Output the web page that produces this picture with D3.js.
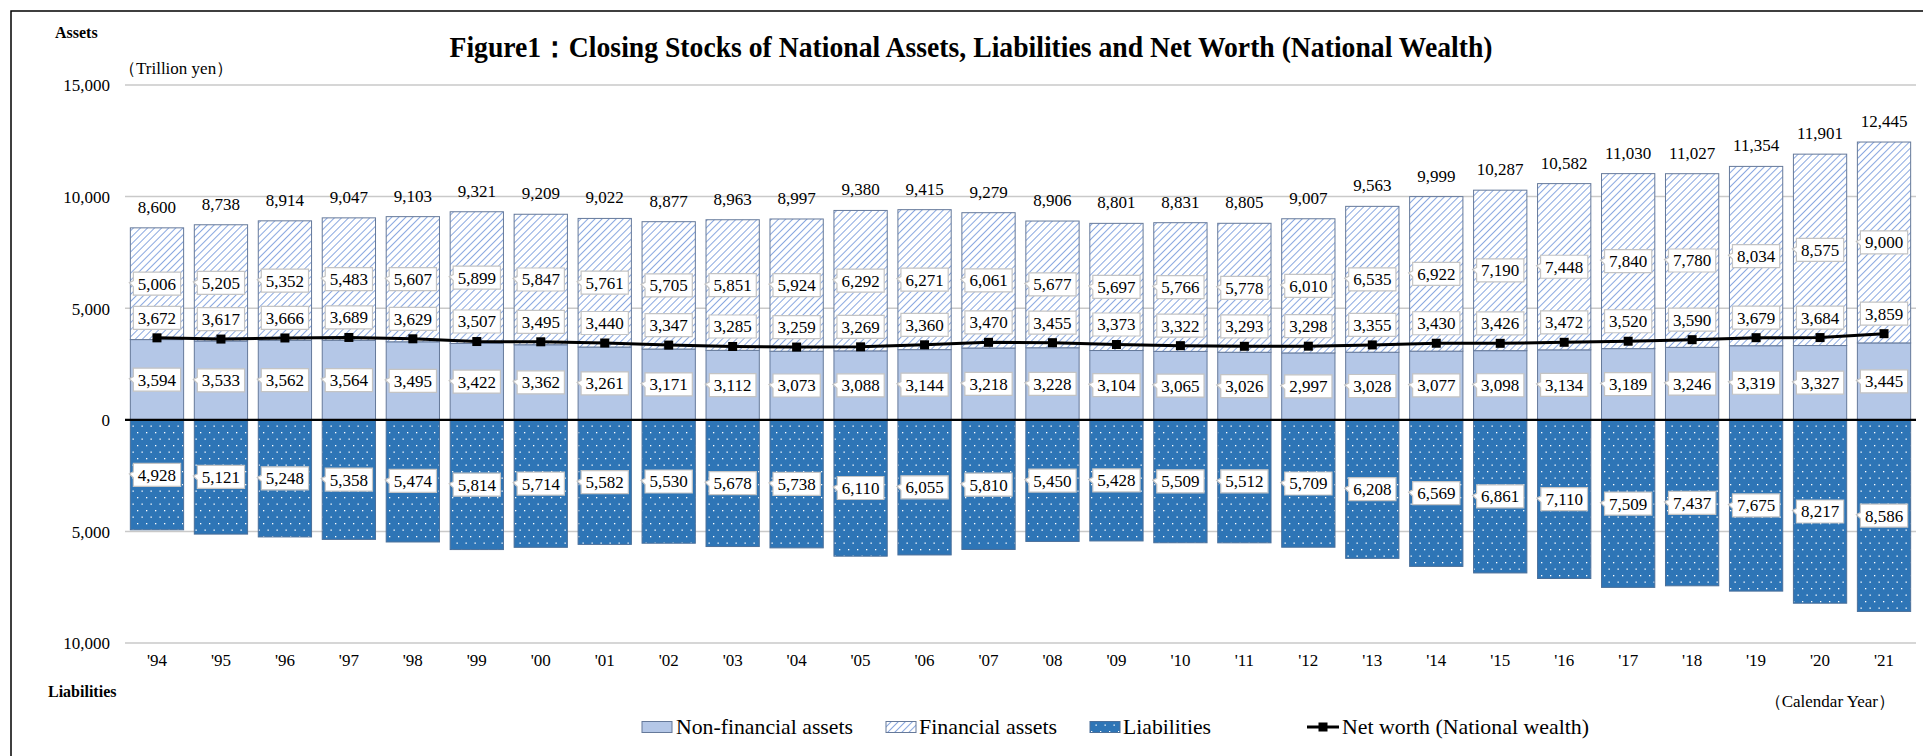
<!DOCTYPE html>
<html>
<head>
<meta charset="utf-8">
<script src="https://cdn.jsdelivr.net/npm/d3@7/dist/d3.min.js"></script>
<style>
  html, body { margin: 0; padding: 0; background: #fff; }
  svg { display: block; font-family: "Liberation Serif", "Times New Roman", serif; }
</style>
</head>
<body>
<svg id="chart" width="1923" height="756"></svg>
<script>
// ---------- data ----------
const years = ["'94","'95","'96","'97","'98","'99","'00","'01","'02","'03","'04","'05","'06","'07","'08","'09","'10","'11","'12","'13","'14","'15","'16","'17","'18","'19","'20","'21"];
const nonFinancial = [3594,3533,3562,3564,3495,3422,3362,3261,3171,3112,3073,3088,3144,3218,3228,3104,3065,3026,2997,3028,3077,3098,3134,3189,3246,3319,3327,3445];
const financial = [5006,5205,5352,5483,5607,5899,5847,5761,5705,5851,5924,6292,6271,6061,5677,5697,5766,5778,6010,6535,6922,7190,7448,7840,7780,8034,8575,9000];
const totals = [8600,8738,8914,9047,9103,9321,9209,9022,8877,8963,8997,9380,9415,9279,8906,8801,8831,8805,9007,9563,9999,10287,10582,11030,11027,11354,11901,12445];
const liabilities = [4928,5121,5248,5358,5474,5814,5714,5582,5530,5678,5738,6110,6055,5810,5450,5428,5509,5512,5709,6208,6569,6861,7110,7509,7437,7675,8217,8586];
const netWorth = [3672,3617,3666,3689,3629,3507,3495,3440,3347,3285,3259,3269,3360,3470,3455,3373,3322,3293,3298,3355,3430,3426,3472,3520,3590,3679,3684,3859];
const yTicks = [-10000,-5000,0,5000,10000,15000];
const legendItems = ["Non-financial assets","Financial assets","Liabilities","Net worth (National wealth)"];

// ---------- setup ----------
const svg = d3.select("#chart");
const fmt = d3.format(",");
const plotLeft = 125, plotRight = 1916, plotTop = 85, plotBottom = 643;

const x = d3.scaleBand().domain(years).range([plotLeft, plotRight]).paddingInner(0.167).paddingOuter(0.0835);
const y = d3.scaleLinear().domain([-10000, 15000]).range([plotBottom, plotTop]);

// patterns
const defs = svg.append("defs");
const hatch = defs.append("pattern").attr("id","hatch").attr("patternUnits","userSpaceOnUse")
  .attr("width",5).attr("height",5).attr("patternTransform","rotate(45)");
hatch.append("rect").attr("width",5).attr("height",5).attr("fill","#ffffff");
hatch.append("line").attr("x1",0).attr("y1",0).attr("x2",0).attr("y2",5)
  .attr("stroke","#8aa8e0").attr("stroke-width",2);

const dots = defs.append("pattern").attr("id","dots").attr("patternUnits","userSpaceOnUse")
  .attr("width",9).attr("height",13);
dots.append("rect").attr("width",9).attr("height",13).attr("fill","#2e75b6");
dots.append("rect").attr("x",2).attr("y",3).attr("width",1.3).attr("height",1.3).attr("fill","#ffffff");
dots.append("rect").attr("x",6.5).attr("y",9.5).attr("width",1.3).attr("height",1.3).attr("fill","#ffffff");

// frame
svg.append("rect").attr("x",11).attr("y",11).attr("width",2000).attr("height",900)
  .attr("fill","none").attr("stroke","#000").attr("stroke-width",1.5);

// title
svg.append("text").attr("x",971).attr("y",57).attr("text-anchor","middle")
  .attr("font-size",30).attr("font-weight","bold")
  .attr("textLength",1043).attr("lengthAdjust","spacingAndGlyphs")
  .text("Figure1：Closing Stocks of National Assets, Liabilities and Net Worth (National Wealth)");

// side texts
svg.append("text").attr("x",55).attr("y",38).attr("font-size",16).attr("font-weight","bold").text("Assets");
svg.append("text").attr("x",119).attr("y",74).attr("font-size",17).text("（Trillion yen）");
svg.append("text").attr("x",48).attr("y",697).attr("font-size",16).attr("font-weight","bold").text("Liabilities");
svg.append("text").attr("x",1895).attr("y",707).attr("font-size",17).attr("text-anchor","end").text("（Calendar Year）");

// gridlines
svg.append("g").selectAll("line").data(yTicks.filter(d => d !== 0)).join("line")
  .attr("x1",plotLeft).attr("x2",plotRight).attr("y1",d=>y(d)).attr("y2",d=>y(d))
  .attr("stroke","#c9c9c9").attr("stroke-width",1.5);

// y axis labels
const yAxis = d3.axisLeft(y).tickValues(yTicks).tickFormat(d => fmt(Math.abs(d))).tickSize(0).tickPadding(0);
const yG = svg.append("g").attr("transform",`translate(${110},0)`).call(yAxis);
yG.select(".domain").remove();
yG.selectAll("text").attr("font-size",17).attr("font-family","Liberation Serif").attr("fill","#000").attr("dy","0.35em");

// x axis labels
const xAxis = d3.axisBottom(x).tickSize(0).tickPadding(0);
const xG = svg.append("g").attr("transform",`translate(0,${654})`).call(xAxis);
xG.select(".domain").remove();
xG.selectAll("text").attr("font-size",17).attr("font-family","Liberation Serif").attr("fill","#000").attr("dy","0.71em");

// bars
const idx = d3.range(years.length);
const barStroke = "#65799a";
svg.append("g").selectAll("rect").data(idx).join("rect")
  .attr("x",i=>x(years[i])).attr("width",x.bandwidth())
  .attr("y",i=>y(nonFinancial[i])).attr("height",i=>y(0)-y(nonFinancial[i]))
  .attr("fill","#b4c7e7").attr("stroke",barStroke).attr("stroke-width",1);
svg.append("g").selectAll("rect").data(idx).join("rect")
  .attr("x",i=>x(years[i])).attr("width",x.bandwidth())
  .attr("y",i=>y(nonFinancial[i]+financial[i])).attr("height",i=>y(nonFinancial[i])-y(nonFinancial[i]+financial[i]))
  .attr("fill","url(#hatch)").attr("stroke",barStroke).attr("stroke-width",1);
svg.append("g").selectAll("rect").data(idx).join("rect")
  .attr("x",i=>x(years[i])).attr("width",x.bandwidth())
  .attr("y",y(0)).attr("height",i=>y(-liabilities[i])-y(0))
  .attr("fill","url(#dots)").attr("stroke","#4a6f9a").attr("stroke-width",1);

// zero line
svg.append("line").attr("x1",plotLeft).attr("x2",plotRight).attr("y1",y(0)).attr("y2",y(0))
  .attr("stroke","#000").attr("stroke-width",2.2);

// net worth line
const cx = i => x(years[i]) + x.bandwidth()/2;
svg.append("path").datum(idx)
  .attr("d", d3.line().x(i=>cx(i)).y(i=>y(netWorth[i])))
  .attr("fill","none").attr("stroke","#000").attr("stroke-width",3);
svg.append("g").selectAll("rect").data(idx).join("rect")
  .attr("x",i=>cx(i)-4.5).attr("y",i=>y(netWorth[i])-4.5).attr("width",9).attr("height",9)
  .attr("fill","#000");

// label boxes
const labelsG = svg.append("g");
function boxLabel(xc, yc, value, pointer) {
  const g = labelsG.append("g");
  const t = g.append("text").attr("x",xc).attr("y",yc).attr("dy","0.35em").attr("text-anchor","middle")
    .attr("font-size",17).attr("fill","#000").text(fmt(value));
  const w = t.node().getComputedTextLength() + 9, h = 23;
  const x0 = xc - w/2, y0 = yc - h/2;
  let d;
  if (pointer) {
    d = `M${x0},${y0} H${x0+w} V${y0+h} H${x0} V${yc+3} L${x0-4},${yc-1} L${x0},${yc-3} Z`;
  } else {
    d = `M${x0},${y0} H${x0+w} V${y0+h} H${x0} Z`;
  }
  g.insert("path","text").attr("d",d).attr("fill","#fff").attr("stroke","#c4c4c4").attr("stroke-width",1.2);
}
idx.forEach(i => {
  boxLabel(cx(i), y(nonFinancial[i]/2), nonFinancial[i], true);
  boxLabel(cx(i), y(nonFinancial[i] + financial[i]/2), financial[i], true);
  boxLabel(cx(i), y(-liabilities[i]/2), liabilities[i], true);
  boxLabel(cx(i), y(netWorth[i]) - 20, netWorth[i], false);
});

// totals
svg.append("g").selectAll("text").data(idx).join("text")
  .attr("x",i=>cx(i)).attr("y",i=>y(totals[i]) - 15).attr("text-anchor","middle")
  .attr("font-size",17).attr("fill","#000").text(i=>fmt(totals[i]));

// legend
const lg = svg.append("g");
const lgY = 727;
const swatchX = [642, 886, 1090];
const textX = [676, 919, 1123, 1342];
const textW = [177, 138, 88, 247];
const fills = ["#b4c7e7","url(#hatch)","url(#dots)"];
const strokes = [barStroke, barStroke, "#4a6f9a"];
[0,1,2].forEach(k => {
  lg.append("rect").attr("x",swatchX[k]).attr("y",lgY-5.5).attr("width",30).attr("height",11)
    .attr("fill",fills[k]).attr("stroke",strokes[k]).attr("stroke-width",1);
});
lg.append("line").attr("x1",1307).attr("x2",1339).attr("y1",lgY).attr("y2",lgY).attr("stroke","#000").attr("stroke-width",3);
lg.append("rect").attr("x",1323-4.5).attr("y",lgY-4.5).attr("width",9).attr("height",9).attr("fill","#000");
legendItems.forEach((s,k) => {
  lg.append("text").attr("x",textX[k]).attr("y",lgY).attr("dy","0.35em").attr("font-size",21)
    .attr("textLength",textW[k]).attr("lengthAdjust","spacingAndGlyphs").text(s);
});
</script>
</body>
</html>
